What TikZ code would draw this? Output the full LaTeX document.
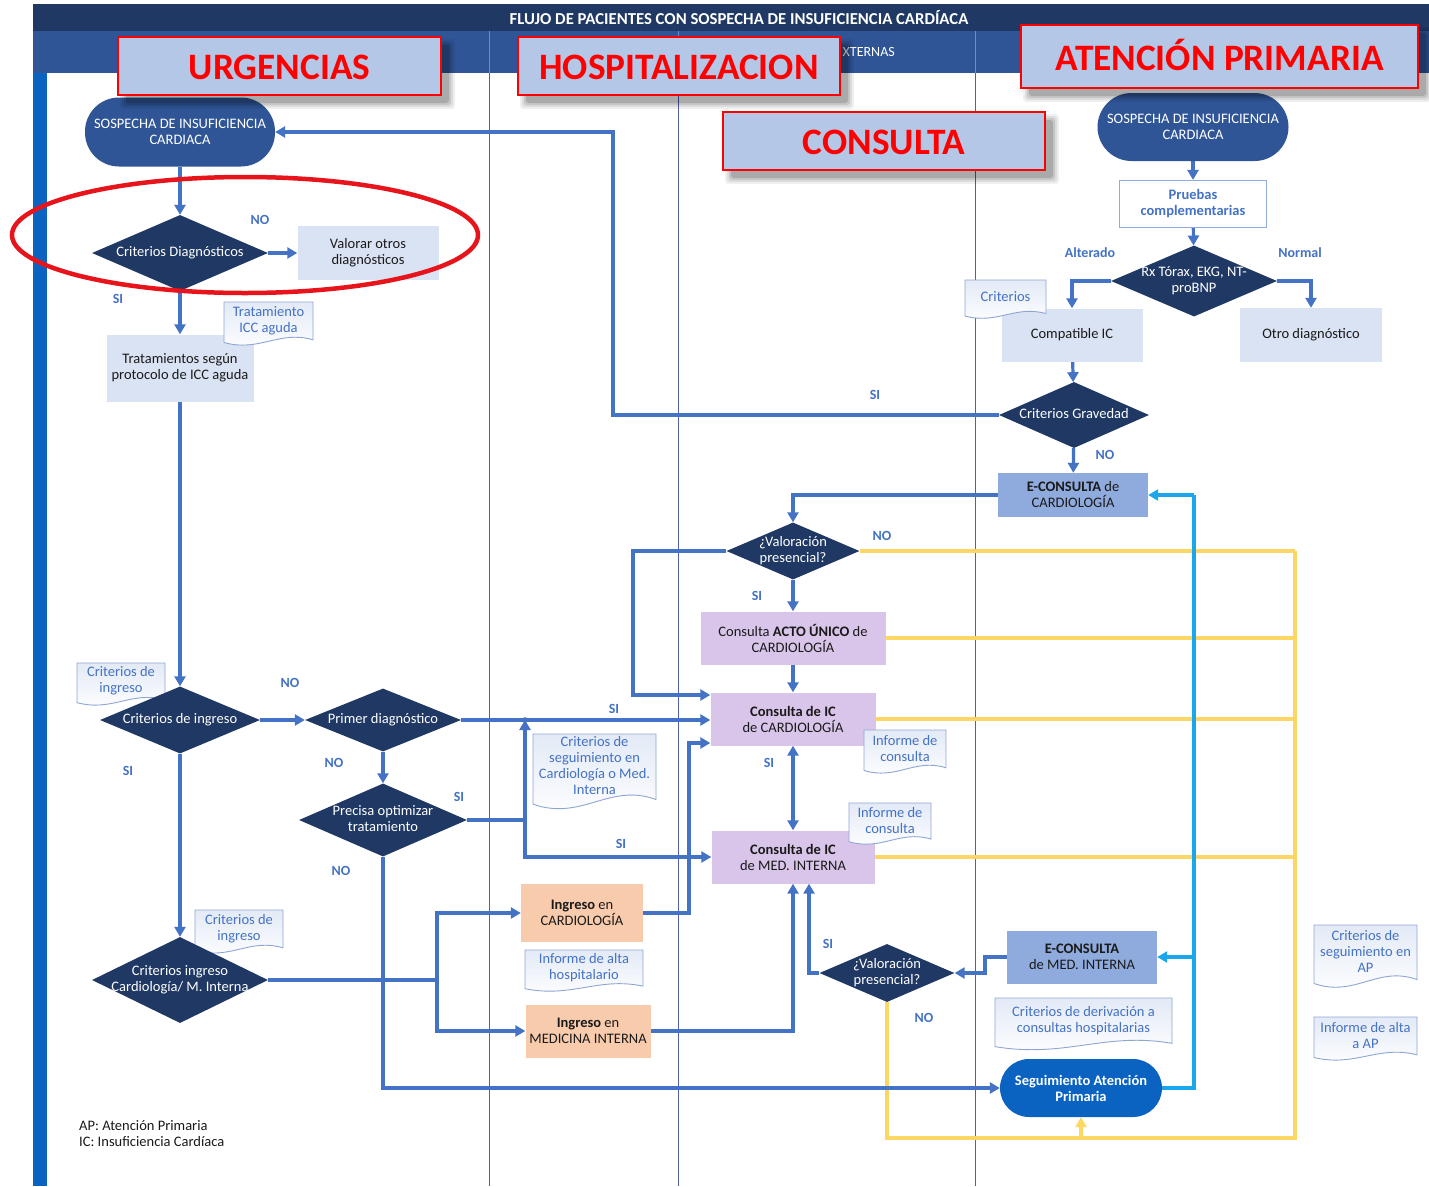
\documentclass[tikz,border=0pt]{standalone}
\usepackage{fontspec}
\setmainfont{Carlito}
\usetikzlibrary{arrows.meta,shapes.geometric,calc}

\definecolor{cNavy}{HTML}{1F3864}
\definecolor{cStad}{HTML}{2F5597}
\definecolor{cAP}{HTML}{0B63C1}
\definecolor{cLight}{HTML}{DAE3F3}
\definecolor{cEcons}{HTML}{8FAADC}
\definecolor{cLav}{HTML}{D9C5EA}
\definecolor{cPeach}{HTML}{F8CBAD}
\definecolor{cConn}{HTML}{4472C4}
\definecolor{cCyan}{HTML}{1AA7EC}
\definecolor{cYel}{HTML}{FDD663}
\definecolor{cLane}{HTML}{5060A8}
\definecolor{cLaneHdr}{HTML}{6F8CCB}
\definecolor{cHdrDark}{HTML}{1F3864}
\definecolor{cHdrMid}{HTML}{2F5597}
\definecolor{cTagFill}{HTML}{B4C7E7}
\definecolor{cTagRed}{HTML}{FF0000}
\definecolor{cRing}{HTML}{E8141B}
\definecolor{cDocLine}{HTML}{8EA6D6}
\definecolor{cDocTop}{HTML}{E3EAF6}
\definecolor{cInk}{HTML}{1A1A1A}

\pgfdeclarelayer{lanes}
\pgfdeclarelayer{wires}
\pgfsetlayers{lanes,wires,main}

\newcommand\dtext[1]{\makebox[0pt]{\begin{tabular}{@{}c@{}}#1\end{tabular}}}

% document symbol: rectangle with a wavy lower edge, text in its upper part
\newcommand\docbox[6]{%
  \path[docshape] (#2,#3) -- (#4,#3) -- (#4,{#3+0.84*(#5-#3)})
    .. controls ({#2+0.62*(#4-#2)},{#3+0.62*(#5-#3)}) and ({#2+0.40*(#4-#2)},{#3+1.12*(#5-#3)}) .. (#2,{#3+0.90*(#5-#3)}) -- cycle;
  \node[doctext] (#1) at ({(#2+#4)/2},{#3+0.41*(#5-#3)}) {#6};
}

% section tag with a soft drop shadow
\newcommand\tagbox[6]{%
  \foreach \d/\op in {6/0.06,4/0.08,2/0.10,0/0.14} {
    \fill[black, opacity=\op, rounded corners=3pt] ({#2+8-\d},{#3+8-\d}) rectangle ({#4+8+\d},{#5+8+\d});
  }
  \node[tagstyle, minimum width={(#4-#2)*1pt}, minimum height={(#5-#3)*1pt}] (#1) at ({(#2+#4)/2},{(#3+#5)/2}) {#6};
}

\tikzset{
  txt/.style={font=\fontsize{14.5}{16}\selectfont},
  box/.style={rectangle, inner sep=0pt, align=center, txt, text=cInk},
  lightbox/.style={box, fill=cLight},
  peachbox/.style={box, fill=cPeach},
  lavbox/.style={box, fill=cLav},
  ebox/.style={box, fill=cEcons},
  stad/.style={box, rounded corners=34pt, fill=cStad, text=white},
  decide/.style={diamond, fill=cNavy, text=white, inner sep=0pt, txt},
  answer/.style={font=\bfseries\fontsize{14}{15}\selectfont, text=cConn, inner sep=0pt},
  doctext/.style={align=center, text=cConn, txt, inner sep=0pt},
  docshape/.style={draw=cDocLine, line width=0.9pt, top color=cDocTop, bottom color=white},
  tagstyle/.style={rectangle, draw=cTagRed, line width=2pt, fill=cTagFill, text=cTagRed,
    font=\bfseries\fontsize{37.3}{40}\selectfont, inner sep=0pt, text height=27pt, text depth=0pt},
  flow/.style={draw=cConn, line width=3.2pt, -{Triangle[length=10pt,width=11pt]}},
  wire/.style={draw=cConn, line width=3.2pt},
  both/.style={draw=cConn, line width=3.2pt, {Triangle[length=10pt,width=11pt]}-{Triangle[length=10pt,width=11pt]}},
  cyanflow/.style={draw=cCyan, line width=3.2pt, -{Triangle[length=10pt,width=11pt]}},
  cyanwire/.style={draw=cCyan, line width=3.2pt},
  yelwire/.style={draw=cYel, line width=3.2pt},
  yelflow/.style={draw=cYel, line width=3.2pt, -{Triangle[length=10pt,width=11pt]}},
}

\begin{document}
\begin{tikzpicture}[x=1pt,y=-1pt]
\useasboundingbox (0,0) rectangle (1429,1186);

% ---------- page frame, header and swimlanes ----------
\begin{pgfonlayer}{lanes}
  \fill[white] (0,0) rectangle (1429,1186);
  \fill[cHdrDark] (33,4) rectangle (1429,31);
  \fill[cHdrMid] (33,31) rectangle (1429,73);
  \fill[cAP] (33,73) rectangle (47,1186);
  \foreach \lx in {489,678,975} {
    \draw[cLaneHdr, line width=0.9pt] (\lx,31) -- (\lx,73);
    \draw[cLane, line width=0.9pt] (\lx,73) -- (\lx,1186);
  }
  \node[font=\bfseries\fontsize{16.7}{18}\selectfont, text=white] (title) at (739,18)
    {FLUJO DE PACIENTES CON SOSPECHA DE INSUFICIENCIA CARDÍACA};
  \node[anchor=east, font=\fontsize{14}{15}\selectfont, text=white, inner sep=0pt] (cexternas) at (895,52) {XTERNAS};
\end{pgfonlayer}

% ---------- process boxes ----------
\node[stad, minimum width=190pt, minimum height=69pt] (s1) at (180,132) {SOSPECHA DE INSUFICIENCIA\\CARDIACA};
\node[lightbox, minimum width=141pt, minimum height=54pt] (valorar) at (368,253) {Valorar otros\\diagnósticos};
\node[lightbox, minimum width=147pt, minimum height=67pt] (tratam) at (180,368) {Tratamientos según\\protocolo de ICC aguda};
\node[peachbox, minimum width=122pt, minimum height=58pt] (ingcard) at (582,913) {\textbf{Ingreso} en\\CARDIOLOGÍA};
\node[peachbox, minimum width=125pt, minimum height=53pt] (ingmi) at (588,1031) {\textbf{Ingreso} en\\MEDICINA INTERNA};
\node[ebox, minimum width=150pt, minimum height=44pt] (econsc) at (1073,495) {\textbf{E-CONSULTA} de\\CARDIOLOGÍA};
\node[lavbox, minimum width=185pt, minimum height=53pt] (acto) at (793,638) {Consulta \textbf{ACTO ÚNICO} de\\CARDIOLOGÍA};
\node[lavbox, minimum width=165pt, minimum height=53pt] (icc) at (793,719) {\textbf{Consulta de IC}\\de CARDIOLOGÍA};
\node[lavbox, minimum width=163pt, minimum height=53pt] (icmi) at (793,857) {\textbf{Consulta de IC}\\de MED. INTERNA};
\node[ebox, minimum width=150pt, minimum height=53pt] (econsmi) at (1082,957) {\textbf{E-CONSULTA}\\de MED. INTERNA};
\node[stad, fill=cAP, rounded corners=29pt, minimum width=162pt, minimum height=58pt, font=\bfseries\fontsize{14.5}{16}\selectfont] (sap) at (1081,1088) {Seguimiento Atención\\Primaria};
\node[stad, minimum width=191pt, minimum height=68pt] (s2) at (1193,127) {SOSPECHA DE INSUFICIENCIA\\CARDIACA};
\node[box, draw=cEcons, line width=1.2pt, fill=white, text=cConn, font=\bfseries\fontsize{14.5}{16}\selectfont,
      minimum width=147pt, minimum height=47pt] (pruebas) at (1193,204) {Pruebas\\complementarias};
\node[lightbox, minimum width=141pt, minimum height=53pt] (compat) at (1072,335) {Compatible IC};
\node[lightbox, minimum width=142pt, minimum height=54pt] (otro) at (1311,335) {Otro diagnóstico};

% ---------- document symbols ----------
\docbox{dtto}{224}{302}{313}{347}{Tratamiento\\ICC aguda}
\docbox{ding1}{77}{663}{165}{707}{Criterios de\\ingreso}
\docbox{ding2}{195}{910}{283}{955}{Criterios de\\ingreso}
\docbox{dseg}{533}{734}{656}{812}{Criterios de\\seguimiento en\\Cardiología o Med.\\Interna}
\docbox{dalta}{525}{950}{643}{993}{Informe de alta\\hospitalario}
\docbox{dinf1}{864}{730}{946}{775}{Informe de\\consulta}
\docbox{dinf2}{849}{803}{931}{846}{Informe de\\consulta}
\docbox{dderiv}{995}{998}{1172}{1052}{Criterios de derivación a\\consultas hospitalarias}
\docbox{dcrit}{965}{280}{1046}{320}{Criterios}
\docbox{dsegap}{1314}{925}{1417}{990}{Criterios de\\seguimiento en\\AP}
\docbox{daltaap}{1314}{1017}{1417}{1062}{Informe de alta\\a AP}

% ---------- decisions ----------
\node[decide, minimum width=176pt, minimum height=76pt] (d1) at (180,253) {\dtext{Criterios Diagnósticos}};
\node[decide, minimum width=160pt, minimum height=67pt] (dingreso) at (180,720) {\dtext{Criterios de ingreso}};
\node[decide, minimum width=156pt, minimum height=63pt] (primer) at (383,720) {\dtext{Primer diagnóstico}};
\node[decide, minimum width=168pt, minimum height=73pt] (precisa) at (383,820) {\dtext{Precisa optimizar\\tratamiento}};
\node[decide, minimum width=176pt, minimum height=86pt] (dci) at (180,980) {\dtext{Criterios ingreso\\Cardiología/ M. Interna}};
\node[decide, minimum width=133pt, minimum height=57pt] (val1) at (793,551) {\dtext{¿Valoración\\presencial?}};
\node[decide, minimum width=135pt, minimum height=58pt] (val2) at (887,973) {\dtext{¿Valoración\\presencial?}};
\node[decide, minimum width=166pt, minimum height=71pt] (rx) at (1194,281) {\dtext{Rx Tórax, EKG, NT-\\proBNP}};
\node[decide, minimum width=150pt, minimum height=66pt] (grav) at (1074,415) {\dtext{Criterios Gravedad}};

% ---------- routing points ----------
\coordinate (jx) at (525,820);
\coordinate (kx) at (689,743);
\coordinate (lx) at (633,695);
\coordinate (mx) at (437,980);
\coordinate (nx) at (985,957);
\coordinate (px) at (613,415);
\coordinate (cx) at (1194,1088);
\coordinate (yx) at (1295,551);
\coordinate (yb) at (887,1138);

% ---------- connectors ----------
\begin{pgfonlayer}{wires}
  % follow-up loop back to primary care
  \draw[yelwire] (val1.east) -- (val1.east -| yx);
  \draw[yelwire] (acto.east) -- (acto.east -| yx);
  \draw[yelwire] (icc.east) -- (icc.east -| yx);
  \draw[yelwire] (icmi.east) -- (icmi.east -| yx);
  \draw[yelwire] (val2.south) -- (yb) -- (yb -| yx) -- (yx);
  \draw[yelflow] (yb -| sap.south) -- (sap.south);

  % emergency department
  \draw[flow] (s1) -- (d1);
  \draw[flow] (d1) -- (valorar);
  \draw[flow] (d1) -- (tratam);
  \draw[flow] (tratam) -- (dingreso);
  \draw[flow] (dingreso) -- (primer);
  \draw[flow] (primer) -- (precisa);
  \draw[flow] (dingreso) -- (dci);
  \draw[flow] (primer.east) -- (primer.east -| icc.west);
  \draw[wire] (precisa.east) -- (jx);
  \draw[flow] (jx) -- (jx |- primer.east);
  \draw[flow] (jx) -- (jx |- icmi.west) -- (icmi.west);
  \draw[flow] (precisa.south) |- (sap.west);
  \draw[wire] (dci.east) -- (mx);
  \draw[flow] (mx) |- (ingcard.west);
  \draw[flow] (mx) |- (ingmi.west);
  \fill[cConn] (precisa.south |- mx) circle (2.8);
  \fill[cConn] (jx |- primer.east) circle (2.8);

  % hospital wards to outpatient clinics
  \draw[flow] (ingcard.east) -| (kx) -- (kx -| icc.west);
  \draw[flow] (ingmi.east) -| (icmi.south);
  \draw[both] (icc) -- (icmi);
  \draw[flow] (val1.west) -| (lx) -- (lx -| icc.west);
  \draw[flow] (econsc.west) -| (val1.north);
  \draw[flow] (val1) -- (acto);
  \draw[flow] (acto) -- (icc);
  \draw[flow] (val2.west) -| ($(icmi.south)+(16,0)$);
  \draw[flow] (econsmi.west) -- (nx) |- (val2.east);

  % primary care
  \draw[flow] (s2) -- (pruebas);
  \draw[flow] (pruebas) -- (rx);
  \draw[flow] (rx.west) -| (compat.north);
  \draw[flow] (rx.east) -| (otro.north);
  \draw[flow] (compat) -- (grav);
  \draw[flow] (grav) -- (econsc);
  \draw[flow] (grav.west) -- (px) -- (px |- s1.east) -- (s1.east);

  % e-consultation requests from primary care
  \draw[cyanwire] (sap.east) -- (cx) -- (cx |- econsc.east);
  \draw[cyanflow] (cx |- econsc.east) -- (econsc.east);
  \draw[cyanflow] (cx |- econsmi.east) -- (econsmi.east);
\end{pgfonlayer}

% ---------- branch labels ----------
\node[answer] (a1) at (260,220) {NO};
\node[answer] (a2) at (118,299) {SI};
\node[answer] (a3) at (290,683) {NO};
\node[answer] (a4) at (128,771) {SI};
\node[answer] (a5) at (334,763) {NO};
\node[answer] (a6) at (459,797) {SI};
\node[answer] (a7) at (341,871) {NO};
\node[answer] (a8) at (614,709) {SI};
\node[answer] (a9) at (621,844) {SI};
\node[answer] (a10) at (769,763) {SI};
\node[answer] (a11) at (757,596) {SI};
\node[answer] (a12) at (882,536) {NO};
\node[answer] (a13) at (828,944) {SI};
\node[answer] (a14) at (924,1018) {NO};
\node[answer] (a15) at (875,395) {SI};
\node[answer] (a16) at (1105,455) {NO};
\node[answer] (a17) at (1090,253) {Alterado};
\node[answer] (a18) at (1300,253) {Normal};

% ---------- footnote ----------
\node[anchor=west, txt, text=cInk, inner sep=0pt] (fn1) at (79,1126) {AP: Atención Primaria};
\node[anchor=west, txt, text=cInk, inner sep=0pt] (fn2) at (79,1142) {IC: Insuficiencia Cardíaca};

% ---------- section tags ----------
\tagbox{tagurg}{118}{37}{441}{95}{URGENCIAS}
\tagbox{taghosp}{518}{37}{840}{95}{HOSPITALIZACION}
\tagbox{tagap}{1021}{25}{1418}{88}{ATENCIÓN PRIMARIA}
\tagbox{tagcons}{723}{112}{1045}{170}{CONSULTA}

% highlight ring
\draw[cRing, line width=4.5pt] (245,235) ellipse [x radius=233, y radius=58];
\end{tikzpicture}
\end{document}
